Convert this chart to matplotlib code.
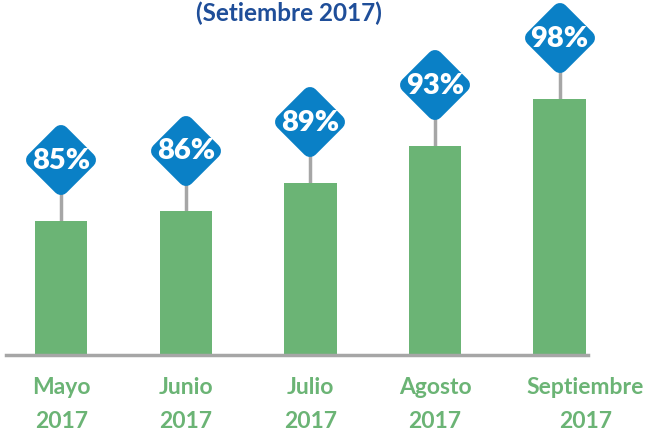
import numpy as np
import matplotlib
matplotlib.use('Agg')
import matplotlib.pyplot as plt
from matplotlib.markers import MarkerStyle
from matplotlib.transforms import ScaledTranslation

# ===== Data =====
meses = ['Mayo\n2017', 'Junio\n2017', 'Julio\n2017', 'Agosto\n2017', 'Septiembre\n2017']
valores = [85, 86, 89, 93, 98]
etiquetas = ['85%', '86%', '89%', '93%', '98%']
titulo = '(Setiembre 2017)'

# ===== Colores =====
verde = '#6BB475'
azul = '#0A80C6'
azul_titulo = '#1F4E99'
gris = '#A6A6A6'

plt.rcParams['font.family'] = ['Lato', 'DejaVu Sans']

fig = plt.figure(figsize=(6.45, 4.32), dpi=100)
ax = fig.add_axes([6 / 645, 77 / 432, 582 / 645, 355 / 432])

x = np.arange(len(valores))
base = 70.7
ax.bar(x, np.array(valores) - base, bottom=base, width=0.42, color=verde, zorder=2)

# palito + rombo
offset = 6.5
rombo = MarkerStyle('D', joinstyle='round')
for xi, v, txt in zip(x, valores, etiquetas):
    ax.plot([xi, xi], [v, v + offset], color=gris, lw=2.5, zorder=1, clip_on=False)
    ax.plot(xi, v + offset, marker=rombo, ms=27.5, mfc=azul, mec=azul, mew=11.5,
            clip_on=False, zorder=3)
    ax.text(xi, v + offset - 0.1, txt, color='white', fontsize=21, fontweight='heavy',
            ha='center', va='center', zorder=4)

ax.set_xlim(-0.443, 4.228)
ax.set_ylim(base, 108.55)

for s in ['top', 'right', 'left']:
    ax.spines[s].set_visible(False)
ax.spines['bottom'].set_color(gris)
ax.spines['bottom'].set_linewidth(2.5)
ax.set_yticks([])
ax.set_xticks(x)
ax.set_xticklabels(meses, color=verde, fontsize=16.5, fontweight='bold', linespacing=1.75)
ax.tick_params(axis='x', length=0, pad=16)

# la ultima etiqueta va un poco corrida a la derecha
lbl = ax.get_xticklabels()[-1]
lbl.set_transform(lbl.get_transform() + ScaledTranslation(0.26, 0, fig.dpi_scale_trans))

fig.text(289 / 645, 1 - 13 / 432, titulo, color=azul_titulo, fontsize=17.5, fontweight='bold',
         ha='center', va='center')

fig.savefig('out.png', dpi=100)
